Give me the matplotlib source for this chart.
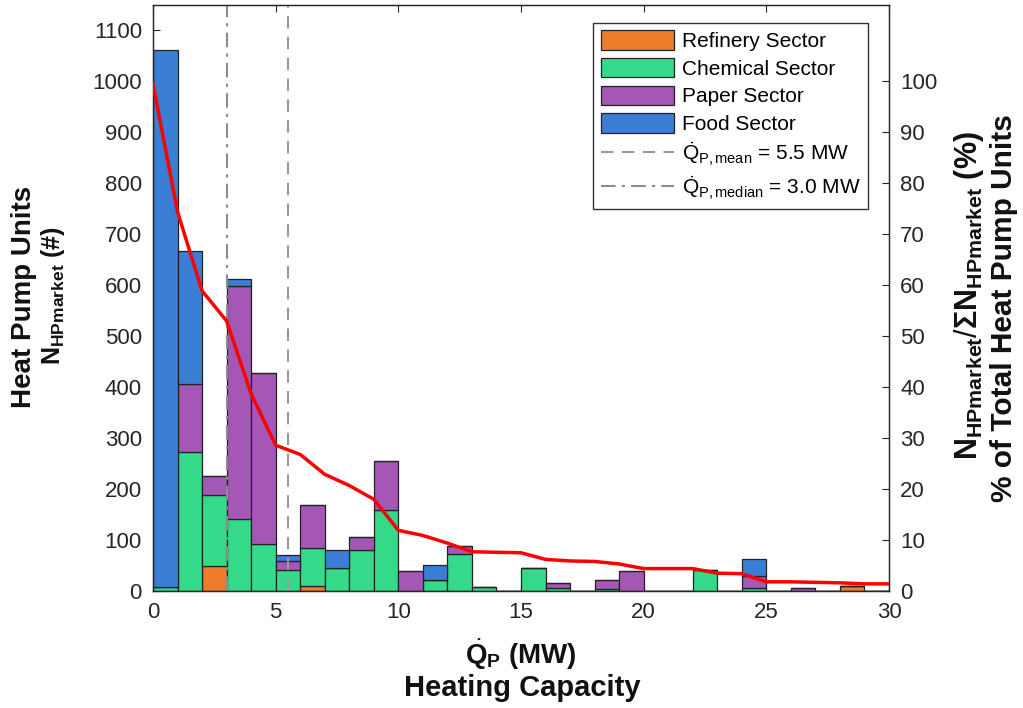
import matplotlib
matplotlib.use("Agg")
import matplotlib.pyplot as plt
import numpy as np

plt.rcParams['font.family'] = ['Liberation Sans', 'DejaVu Sans']
plt.rcParams['mathtext.fontset'] = 'custom'
plt.rcParams['mathtext.rm'] = 'Liberation Sans'
plt.rcParams['mathtext.it'] = 'Liberation Sans:italic'
plt.rcParams['mathtext.bf'] = 'Liberation Sans:bold'

# ---- data ----
bin_left = list(range(30))  # MW, 1 MW bins
refinery = [0, 0, 49, 0, 0, 0, 10, 0, 0, 0, 0, 0, 0, 0, 0, 0, 0, 0, 0, 0, 0, 0, 0, 0, 0, 0, 0, 0, 10, 0]
chemical = [7, 273, 139, 141, 92, 41, 74, 45, 81, 158, 0, 21, 73, 7, 0, 46, 6, 0, 3, 0, 0, 0, 41, 0, 6, 0, 0, 0, 0, 0]
paper = [0, 134, 38, 458, 336, 18, 85, 0, 24, 98, 39, 0, 15, 0, 0, 0, 10, 0, 19, 39, 0, 0, 0, 0, 23, 0, 6, 0, 0, 0]
food = [1055, 261, 0, 13, 0, 12, 0, 35, 0, 0, 0, 31, 0, 0, 0, 0, 0, 0, 0, 0, 0, 0, 0, 0, 33, 0, 0, 0, 0, 0]

pct_x = list(range(31))
pct_above = [99.5, 74.4, 58.9, 53.0, 38.7, 28.6, 26.8, 22.9, 20.7, 18.0, 11.9, 10.9, 9.4, 7.7, 7.6, 7.5,
             6.2, 5.9, 5.8, 5.3, 4.4, 4.4, 4.4, 3.5, 3.4, 1.8, 1.8, 1.7, 1.6, 1.4, 1.4]

q_mean = 5.5
q_median = 3.0

# ---- style ----
c_ref = '#EE7D2B'
c_chem = '#34D98A'
c_paper = '#A457B5'
c_food = '#3A7ED6'
edge = '#222222'
axc = '#262626'

fig = plt.figure(figsize=(10.23, 7.08), dpi=100)
W, H = 1023, 708
ax = fig.add_axes([153 / W, 1 - 591 / H, (889 - 153) / W, (591 - 5) / H])

r = np.array(refinery)
c = np.array(chemical)
p = np.array(paper)
f = np.array(food)
kw = dict(width=1.0, align='edge', edgecolor=edge, linewidth=0.9, zorder=2)
b1 = ax.bar(bin_left, r, color=c_ref, label='Refinery Sector', **kw)
b2 = ax.bar(bin_left, c, bottom=r, color=c_chem, label='Chemical Sector', **kw)
b3 = ax.bar(bin_left, p, bottom=r + c, color=c_paper, label='Paper Sector', **kw)
b4 = ax.bar(bin_left, f, bottom=r + c + p, color=c_food, label='Food Sector', **kw)

l1 = ax.axvline(q_mean, color='#999999', linestyle=(0, (6, 4)), linewidth=1.5, zorder=3,
                label=r'$\dot{\mathrm{Q}}_{\mathrm{P,mean}}$ = 5.5 MW')
l2 = ax.axvline(q_median, color='#8c8c8c', linestyle=(0, (7, 3, 1.5, 3)), linewidth=1.5, zorder=3,
                label=r'$\dot{\mathrm{Q}}_{\mathrm{P,median}}$ = 3.0 MW')

ax.set_xlim(0, 30)
ax.set_ylim(0, 1150)
ax.set_xticks(range(0, 31, 5))
ax.set_yticks(range(0, 1101, 100))
ax.tick_params(axis='both', direction='in', length=5, width=0.8, labelsize=16, colors=axc,
               top=True, right=False, pad=8)
for s in ax.spines.values():
    s.set_color(axc)
    s.set_linewidth(0.9)

ax2 = ax.twinx()
ax2.plot(pct_x, pct_above, color='#FF0000', linewidth=2.5, zorder=4)
ax2.set_ylim(0, 115)
ax2.set_yticks(range(0, 101, 10))
ax2.tick_params(axis='y', direction='in', length=5, width=0.8, labelsize=16, colors=axc, pad=8)
for s in ax2.spines.values():
    s.set_color(axc)
    s.set_linewidth(0.9)

handles = [b1, b2, b3, b4, l1, l2]
leg = ax2.legend(handles=handles, loc='upper right', bbox_to_anchor=((868 - 153) / 736, (591 - 23) / 586),
                 bbox_transform=ax.transAxes, borderaxespad=0, fontsize=15, frameon=True, fancybox=False,
                 edgecolor='#333333', framealpha=1, handlelength=3.5, handleheight=1.05,
                 handletextpad=0.4, labelspacing=0.33, borderpad=0.35)
leg.get_frame().set_linewidth(1.0)

# axis labels
lab = dict(fontweight='bold', color='#111111', ha='center', va='center')
fig.text(24 / W, 1 - 297 / H, 'Heat Pump Units', rotation=90, fontsize=20, **lab)
fig.text(53 / W, 1 - 295 / H, r'$\mathbf{N}_{\mathbf{HPmarket}}$ (#)', rotation=90, fontsize=18, **lab)
fig.text(969 / W, 1 - 296 / H, r'$\mathbf{N}_{\mathbf{HPmarket}}/\mathbf{\Sigma N}_{\mathbf{HPmarket}}$ (%)',
         rotation=90, fontsize=22, **lab)
fig.text(1004 / W, 1 - 308 / H, '% of Total Heat Pump Units', rotation=90, fontsize=21.5, **lab)
fig.text(521 / W, 1 - 655 / H, r'$\dot{\mathbf{Q}}_{\mathbf{P}}$ (MW)', fontsize=20, **lab)
fig.text(522 / W, 1 - 688 / H, 'Heating Capacity', fontsize=21, **lab)

fig.savefig('out.png', dpi=100)
